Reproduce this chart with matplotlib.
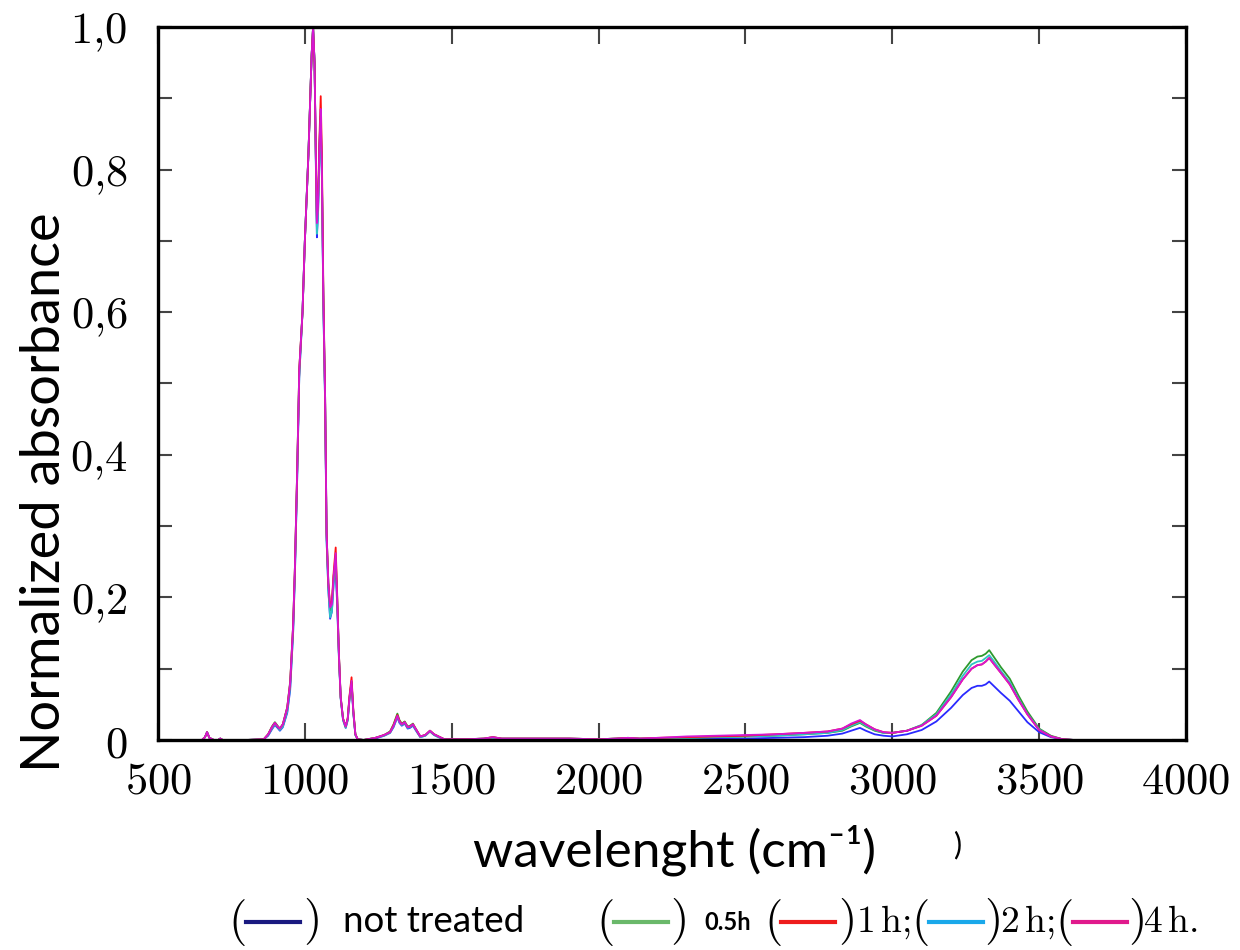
import numpy as np
import matplotlib
matplotlib.use('Agg')
import matplotlib.pyplot as plt
from matplotlib.lines import Line2D
from matplotlib.ticker import MultipleLocator, FuncFormatter

plt.rcParams['mathtext.fontset'] = 'cm'

# wavenumber grid (cm-1)
wn = [600, 650, 660, 667, 675, 690, 705, 712, 720, 800,
      860, 875, 888, 898, 907, 915, 925, 940, 950, 960,
      966, 974, 981, 992, 1000, 1012, 1023, 1028, 1033, 1038,
      1041, 1045, 1050, 1054, 1058, 1063, 1069, 1074, 1080, 1086,
      1092, 1098, 1105, 1110, 1116, 1122, 1130, 1139, 1146, 1152,
      1159, 1165, 1172, 1180, 1200, 1240, 1270, 1290, 1302, 1315,
      1322, 1330, 1340, 1350, 1358, 1368, 1380, 1393, 1410, 1426,
      1440, 1455, 1475, 1550, 1610, 1640, 1670, 1750, 1900, 2000,
      2060, 2100, 2140, 2200, 2300, 2400, 2500, 2600, 2700, 2780,
      2830, 2860, 2890, 2910, 2940, 2970, 3000, 3050, 3100, 3150,
      3200, 3240, 3270, 3290, 3305, 3318, 3330, 3345, 3370, 3400,
      3430, 3460, 3500, 3540, 3580, 3620, 3700, 4000]

abs_not_treated = [0, 0, 0.004, 0.011, 0.003, 0, 0, 0.002, 0, 0,
                   0.001, 0.006, 0.015, 0.021, 0.017, 0.013, 0.018, 0.038, 0.07, 0.15,
                   0.23, 0.37, 0.51, 0.60, 0.70, 0.82, 0.96, 1.0, 0.95, 0.79,
                   0.705, 0.74, 0.83, 0.86, 0.79, 0.61, 0.47, 0.28, 0.21, 0.17,
                   0.18, 0.22, 0.24, 0.19, 0.115, 0.058, 0.028, 0.017, 0.028, 0.057,
                   0.080, 0.038, 0.007, 0.001, 0, 0.002, 0.006, 0.010, 0.018, 0.032,
                   0.024, 0.020, 0.023, 0.016, 0.017, 0.020, 0.012, 0.004, 0.006, 0.012,
                   0.007, 0.004, 0.001, 0.001, 0.001, 0.003, 0.001, 0.001, 0.001, 0.001,
                   0.001, 0.002, 0.001, 0.001, 0.001, 0.002, 0.002, 0.003, 0.004, 0.006,
                   0.009, 0.013, 0.017, 0.013, 0.008, 0.006, 0.005, 0.008, 0.014, 0.026,
                   0.045, 0.063, 0.073, 0.076, 0.076, 0.078, 0.082, 0.076, 0.066, 0.055,
                   0.040, 0.025, 0.011, 0.004, 0.001, 0, 0, 0]

abs_05h = [0, 0, 0.004, 0.011, 0.003, 0, 0, 0.002, 0, 0,
           0.001, 0.008, 0.019, 0.025, 0.020, 0.016, 0.022, 0.046, 0.082, 0.16,
           0.24, 0.38, 0.52, 0.60, 0.70, 0.82, 0.96, 1.0, 0.95, 0.80,
           0.72, 0.75, 0.84, 0.875, 0.80, 0.62, 0.48, 0.29, 0.22, 0.182,
           0.19, 0.23, 0.255, 0.20, 0.12, 0.06, 0.03, 0.019, 0.03, 0.06,
           0.082, 0.04, 0.008, 0.001, 0, 0.003, 0.007, 0.012, 0.022, 0.037,
           0.028, 0.023, 0.026, 0.019, 0.020, 0.023, 0.014, 0.005, 0.007, 0.013,
           0.008, 0.005, 0.001, 0.001, 0.002, 0.004, 0.002, 0.002, 0.002, 0.001,
           0.002, 0.003, 0.002, 0.002, 0.003, 0.004, 0.005, 0.006, 0.008, 0.010,
           0.013, 0.019, 0.024, 0.019, 0.013, 0.010, 0.010, 0.013, 0.021, 0.038,
           0.068, 0.096, 0.112, 0.117, 0.118, 0.121, 0.126, 0.117, 0.102, 0.086,
           0.062, 0.040, 0.016, 0.006, 0.001, 0, 0, 0]

abs_1h = [0, 0, 0.004, 0.011, 0.003, 0, 0, 0.002, 0, 0,
          0.001, 0.008, 0.018, 0.024, 0.019, 0.016, 0.022, 0.045, 0.08, 0.16,
          0.24, 0.38, 0.52, 0.60, 0.70, 0.82, 0.96, 1.0, 0.95, 0.80,
          0.73, 0.76, 0.85, 0.903, 0.82, 0.63, 0.48, 0.29, 0.22, 0.188,
          0.195, 0.235, 0.27, 0.205, 0.12, 0.06, 0.03, 0.019, 0.031, 0.062,
          0.088, 0.042, 0.008, 0.001, 0, 0.003, 0.007, 0.011, 0.021, 0.035,
          0.027, 0.022, 0.025, 0.018, 0.019, 0.022, 0.014, 0.005, 0.007, 0.013,
          0.008, 0.005, 0.001, 0.001, 0.002, 0.004, 0.002, 0.002, 0.002, 0.001,
          0.002, 0.003, 0.002, 0.003, 0.004, 0.005, 0.006, 0.008, 0.010, 0.012,
          0.016, 0.022, 0.027, 0.022, 0.015, 0.011, 0.010, 0.013, 0.020, 0.034,
          0.060, 0.085, 0.100, 0.105, 0.106, 0.110, 0.115, 0.107, 0.094, 0.078,
          0.056, 0.036, 0.014, 0.005, 0.001, 0, 0, 0]

abs_2h = [0, 0, 0.004, 0.011, 0.003, 0, 0, 0.002, 0, 0,
          0.001, 0.007, 0.016, 0.022, 0.018, 0.014, 0.019, 0.040, 0.074, 0.15,
          0.23, 0.37, 0.51, 0.60, 0.70, 0.82, 0.96, 1.0, 0.95, 0.79,
          0.71, 0.74, 0.83, 0.87, 0.79, 0.61, 0.47, 0.28, 0.21, 0.172,
          0.18, 0.22, 0.25, 0.195, 0.115, 0.058, 0.028, 0.017, 0.028, 0.058,
          0.080, 0.039, 0.007, 0.001, 0, 0.003, 0.006, 0.010, 0.019, 0.033,
          0.025, 0.021, 0.024, 0.017, 0.018, 0.021, 0.013, 0.004, 0.006, 0.012,
          0.007, 0.004, 0.001, 0.001, 0.002, 0.003, 0.002, 0.002, 0.002, 0.001,
          0.002, 0.003, 0.002, 0.002, 0.003, 0.004, 0.005, 0.006, 0.008, 0.010,
          0.014, 0.020, 0.025, 0.020, 0.014, 0.010, 0.010, 0.013, 0.021, 0.036,
          0.064, 0.090, 0.106, 0.110, 0.111, 0.115, 0.119, 0.111, 0.097, 0.081,
          0.058, 0.037, 0.015, 0.005, 0.001, 0, 0, 0]

abs_4h = [0, 0, 0.004, 0.011, 0.003, 0, 0, 0.002, 0, 0,
          0.001, 0.008, 0.018, 0.024, 0.019, 0.016, 0.022, 0.045, 0.08, 0.16,
          0.24, 0.38, 0.52, 0.60, 0.70, 0.82, 0.96, 1.0, 0.95, 0.80,
          0.725, 0.75, 0.84, 0.885, 0.80, 0.62, 0.48, 0.29, 0.22, 0.186,
          0.19, 0.23, 0.262, 0.20, 0.12, 0.06, 0.03, 0.019, 0.03, 0.06,
          0.083, 0.04, 0.008, 0.001, 0, 0.003, 0.007, 0.011, 0.02, 0.034,
          0.026, 0.022, 0.025, 0.018, 0.019, 0.022, 0.014, 0.005, 0.007, 0.013,
          0.008, 0.005, 0.001, 0.001, 0.002, 0.004, 0.002, 0.002, 0.002, 0.001,
          0.002, 0.003, 0.002, 0.003, 0.005, 0.006, 0.007, 0.008, 0.010, 0.012,
          0.016, 0.023, 0.028, 0.022, 0.015, 0.011, 0.010, 0.013, 0.020, 0.034,
          0.060, 0.085, 0.100, 0.105, 0.106, 0.110, 0.115, 0.107, 0.094, 0.078,
          0.056, 0.036, 0.014, 0.005, 0.001, 0, 0, 0]

series = [abs_not_treated, abs_05h, abs_2h, abs_1h, abs_4h]
line_colours = ['#2a2aff', '#2e9a2e', '#2ec4c4', '#ff1010', '#d417d4']

x_ticks = [500, 1000, 1500, 2000, 2500, 3000, 3500, 4000]
y_ticks = [0, 0.2, 0.4, 0.6, 0.8, 1.0]

fig = plt.figure(figsize=(12.4, 9.5), dpi=100)
ax = fig.add_axes([158/1240, 1-740/950, 1028/1240, 713/950])

for vals, col in zip(series, line_colours):
    ax.plot(wn, vals, color=col, linewidth=1.3)

ax.set_xlim(500, 4000)
ax.set_ylim(0, 1.0)
ax.set_xticks(x_ticks)
ax.set_yticks(y_ticks)
ax.yaxis.set_minor_locator(MultipleLocator(0.1))


def y_fmt(v, pos):
    if abs(v) < 1e-9:
        return r'$\mathrm{0}$'
    return r'$\mathrm{%s}$' % ('%.1f' % v).replace('.', '{,}')


ax.yaxis.set_major_formatter(FuncFormatter(y_fmt))
ax.xaxis.set_major_formatter(FuncFormatter(lambda v, p: r'$\mathrm{%d}$' % v))

ax.tick_params(axis='both', which='both', direction='in', color='#444444',
               width=1.5, labelsize=32)
ax.tick_params(axis='x', which='major', length=12, pad=14, top=True)
ax.tick_params(axis='y', which='both', length=10, pad=22, right=True)
for s in ax.spines.values():
    s.set_linewidth(2.4)

sans = ['Lato', 'DejaVu Sans']
fig.text(45/1240, 1-492/950, 'Normalized absorbance', family=sans,
         fontsize=39, rotation=90, ha='center', va='center')
fig.text(675/1240, 1-850/950, 'wavelenght (cm\u207b\u00b9)',
         family=sans, fontsize=37, ha='center', va='center')
fig.text(957/1240, 1-845/950, ')', family=sans,
         fontsize=22, ha='center', va='center')

# legend row drawn as text with coloured dashes
ly = 1 - 922/950
leg_colours = ['#1a1a80', '#6ab86a', '#ee1c1c', '#1aa8ea', '#e0198c']
leg_starts = [246, 614, 781, 929, 1073]
for x0, col in zip(leg_starts, leg_colours):
    fig.add_artist(Line2D([x0/1240, (x0+54)/1240], [ly, ly], color=col,
                          linewidth=3, transform=fig.transFigure))
for xp in [237, 605, 773, 920, 1064]:
    fig.text(xp/1240, ly, r'$($', fontsize=34, ha='center', va='center')
for xp in [311, 678, 846, 992, 1136]:
    fig.text(xp/1240, ly, r'$)$', fontsize=34, ha='center', va='center')
fig.text(343/1240, ly, 'not treated', family=sans,
         fontsize=26.5, ha='left', va='center')
fig.text(704/1240, ly, '0.5h', family=sans,
         fontsize=17, fontweight='bold', ha='left', va='center')
fig.text(856/1240, ly, r'$\mathrm{1\,h;}$', fontsize=27, ha='left', va='center')
fig.text(1000/1240, ly, r'$\mathrm{2\,h;}$', fontsize=27, ha='left', va='center')
fig.text(1143/1240, ly, r'$\mathrm{4\,h.}$', fontsize=27, ha='left', va='center')

fig.savefig('out.png', dpi=100)
